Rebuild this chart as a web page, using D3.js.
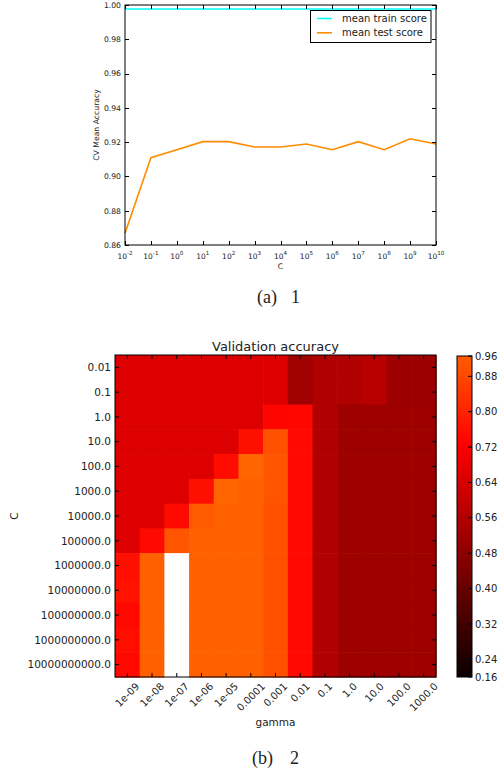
<!DOCTYPE html>
<html><head><meta charset="utf-8">
<script src="https://cdn.jsdelivr.net/npm/d3@7"></script>
<style>body{margin:0;background:#fff}svg{display:block}text{font-family:"DejaVu Sans",sans-serif;fill:#222}</style>
</head><body>
<script>
// ---------- data: top chart ----------
const cExponents = [-2,-1,0,1,2,3,4,5,6,7,8,9,10];
const trainScore = [0.9977,0.9977,0.9977,0.9977,0.9977,0.9977,0.9977,0.9977,0.9977,0.9977,0.9977,0.9977,0.9977];
const testScore  = [0.8668,0.9109,0.9156,0.9203,0.9203,0.9172,0.9172,0.9189,0.9156,0.9203,0.9156,0.9220,0.9189];
const yTicksTop  = [0.86,0.88,0.90,0.92,0.94,0.96,0.98,1.00];
const legendLabels = ["mean train score","mean test score"];

// ---------- data: heatmap ----------
const gammaLabels = ["1e-09","1e-08","1e-07","1e-06","1e-05","0.0001","0.001","0.01","0.1","1.0","10.0","100.0","1000.0"];
const cLabels = ["0.01","0.1","1.0","10.0","100.0","1000.0","10000.0","100000.0","1000000.0","10000000.0","100000000.0","1000000000.0","10000000000.0"];
const scores = [
  [0.650,0.650,0.650,0.650,0.650,0.650,0.650,0.522,0.556,0.556,0.575,0.513,0.513],
  [0.650,0.650,0.650,0.650,0.650,0.650,0.650,0.522,0.556,0.556,0.575,0.513,0.513],
  [0.650,0.650,0.650,0.650,0.650,0.650,0.736,0.740,0.556,0.518,0.518,0.518,0.518],
  [0.650,0.650,0.650,0.650,0.650,0.758,0.900,0.745,0.556,0.518,0.518,0.518,0.518],
  [0.650,0.650,0.650,0.650,0.750,0.9202,0.909,0.745,0.556,0.518,0.518,0.518,0.518],
  [0.650,0.650,0.650,0.758,0.9202,0.9201,0.909,0.745,0.556,0.518,0.518,0.518,0.518],
  [0.650,0.650,0.747,0.919,0.9201,0.9201,0.898,0.745,0.556,0.518,0.518,0.518,0.518],
  [0.650,0.747,0.909,0.9201,0.9201,0.9201,0.898,0.745,0.556,0.518,0.518,0.518,0.518],
  [0.758,0.9201,0.926,0.9201,0.9201,0.9201,0.898,0.745,0.556,0.518,0.518,0.518,0.518],
  [0.765,0.9201,0.926,0.9201,0.9201,0.9201,0.898,0.745,0.556,0.518,0.518,0.518,0.518],
  [0.742,0.9201,0.926,0.9201,0.9201,0.9201,0.898,0.745,0.556,0.518,0.518,0.518,0.518],
  [0.755,0.9201,0.926,0.9201,0.9201,0.9201,0.898,0.745,0.556,0.518,0.518,0.518,0.518],
  [0.742,0.9201,0.926,0.9201,0.9201,0.9201,0.898,0.745,0.556,0.518,0.518,0.518,0.518]
];
const colorbarTicks = [0.16,0.24,0.32,0.40,0.48,0.56,0.64,0.72,0.80,0.88,0.96];
const normVmin = 0.2, normMid = 0.92;

const W = 501, H = 773;
const svg = d3.select("body").append("svg").attr("width", W).attr("height", H);

// ================= TOP CHART =================
const tp = {l:125, r:436, t:5, b:245};
const x = d3.scaleLog().domain([1e-2, 1e10]).range([tp.l, tp.r]);
const y = d3.scaleLinear().domain([0.86, 1.00]).range([tp.b, tp.t]);
const g1 = svg.append("g");
const tickLen = 4;

// lines
const line = d3.line().x((d,i)=>x(Math.pow(10,cExponents[i]))).y(d=>y(d));
g1.append("path").datum(trainScore).attr("d", line).attr("fill","none").attr("stroke","#00ffff").attr("stroke-width",1.6);
g1.append("path").datum(testScore).attr("d", line).attr("fill","none").attr("stroke","#ff8c00").attr("stroke-width",1.6);

// frame
g1.append("rect").attr("x",tp.l).attr("y",tp.t).attr("width",tp.r-tp.l).attr("height",tp.b-tp.t)
  .attr("fill","none").attr("stroke","#000").attr("stroke-width",1);

// y ticks
yTicksTop.forEach(v=>{
  const yy = Math.round(y(v))+0.5;
  g1.append("line").attr("x1",tp.l).attr("x2",tp.l+tickLen).attr("y1",yy).attr("y2",yy).attr("stroke","#000");
  g1.append("line").attr("x1",tp.r-tickLen).attr("x2",tp.r).attr("y1",yy).attr("y2",yy).attr("stroke","#000");
  g1.append("text").attr("x",tp.l-4).attr("y",y(v)+2.8).attr("text-anchor","end").attr("font-size",7.7).text(v.toFixed(2));
});
// x ticks
cExponents.forEach(e=>{
  const xx = Math.round(x(Math.pow(10,e)))+0.5;
  g1.append("line").attr("x1",xx).attr("x2",xx).attr("y1",tp.b).attr("y2",tp.b-tickLen).attr("stroke","#000");
  g1.append("line").attr("x1",xx).attr("x2",xx).attr("y1",tp.t).attr("y2",tp.t+tickLen).attr("stroke","#000");
  const t = g1.append("text").attr("x",x(Math.pow(10,e))).attr("y",258.5).attr("text-anchor","middle").attr("font-size",7.5);
  t.append("tspan").text("10");
  t.append("tspan").attr("dy",-3.5).attr("font-size",5.6).text(e<0 ? "-"+(-e) : String(e));
});
g1.append("text").attr("x",(tp.l+tp.r)/2).attr("y",269).attr("text-anchor","middle").attr("font-size",7.7).text("C");
g1.append("text").attr("transform",`translate(99,${(tp.t+tp.b)/2}) rotate(-90)`).attr("text-anchor","middle").attr("font-size",7.7).text("CV Mean Accuracy");

// legend
const lg = g1.append("g");
lg.append("rect").attr("x",310.5).attr("y",10.5).attr("width",120.5).attr("height",32).attr("fill","#fff").attr("stroke","#000");
const legendColors = ["#00ffff","#ff8c00"];
legendLabels.forEach((lab,i)=>{
  const ly = 18.5 + i*14.3;
  lg.append("line").attr("x1",317).attr("x2",332).attr("y1",ly).attr("y2",ly).attr("stroke",legendColors[i]).attr("stroke-width",1.6);
  lg.append("text").attr("x",342).attr("y",ly+3.6).attr("font-size",10).text(lab);
});

// caption a
svg.append("text").attr("x",257).attr("y",302.5).attr("font-family","Liberation Serif, serif").style("font-family","'Liberation Serif',serif").attr("font-size",18).text("(a)");
svg.append("text").attr("x",291).attr("y",302.5).style("font-family","'Liberation Serif',serif").attr("font-size",18).text("1");

// ================= HEATMAP =================
const hp = {l:115, r:436, t:355, b:677};
const xb = d3.scaleBand().domain(gammaLabels).range([hp.l, hp.r]);
const yb = d3.scaleBand().domain(cLabels).range([hp.t, hp.b]);
const vmax = d3.max(scores.flat());
const norm = d3.scaleLinear().domain([normVmin, normMid, vmax]).range([0, 0.5, 1]).clamp(true);
function hot(t){
  const a = 0.365079, b = 0.746032;
  const r = t < a ? 0.0416 + t/a*(1-0.0416) : 1;
  const g = t < a ? 0 : (t < b ? (t-a)/(b-a) : 1);
  const bl = t < b ? 0 : (t-b)/(1-b);
  return d3.rgb(Math.round(r*255), Math.round(g*255), Math.round(bl*255)).toString();
}
const g2 = svg.append("g");
scores.forEach((row,i)=>{
  row.forEach((v,j)=>{
    g2.append("rect").attr("x",xb(gammaLabels[j])).attr("y",yb(cLabels[i]))
      .attr("width",xb.bandwidth()+0.6).attr("height",yb.bandwidth()+0.6)
      .attr("fill",hot(norm(v)));
  });
});
g2.append("rect").attr("x",hp.l).attr("y",hp.t).attr("width",hp.r-hp.l).attr("height",hp.b-hp.t)
  .attr("fill","none").attr("stroke","#000").attr("stroke-width",1);
// ticks
gammaLabels.forEach(lab=>{
  const cx = xb(lab)+xb.bandwidth()/2;
  g2.append("line").attr("x1",cx).attr("x2",cx).attr("y1",hp.b).attr("y2",hp.b-tickLen).attr("stroke","#000");
  g2.append("line").attr("x1",cx).attr("x2",cx).attr("y1",hp.t).attr("y2",hp.t+tickLen).attr("stroke","#000");
  const t = g2.append("text").attr("font-size",10).attr("text-anchor","middle").text(lab);
  const w = t.node().getComputedTextLength();
  const h = (w + 10) * Math.SQRT1_2;
  t.attr("transform",`translate(${cx},${hp.b + 4 + h/2}) rotate(-45)`).attr("dy","0.35em");
});
cLabels.forEach(lab=>{
  const cy = yb(lab)+yb.bandwidth()/2;
  g2.append("line").attr("x1",hp.l).attr("x2",hp.l+tickLen).attr("y1",cy).attr("y2",cy).attr("stroke","#000");
  g2.append("line").attr("x1",hp.r-tickLen).attr("x2",hp.r).attr("y1",cy).attr("y2",cy).attr("stroke","#000");
  g2.append("text").attr("x",hp.l-4).attr("y",cy+3.8).attr("text-anchor","end").attr("font-size",10.5).text(lab);
});
g2.append("text").attr("x",(hp.l+hp.r)/2).attr("y",351).attr("text-anchor","middle").attr("font-size",13).text("Validation accuracy");
g2.append("text").attr("x",(hp.l+hp.r)/2).attr("y",726).attr("text-anchor","middle").attr("font-size",10.5).text("gamma");
g2.append("text").attr("transform",`translate(18,${(hp.t+hp.b)/2}) rotate(-90)`).attr("text-anchor","middle").attr("font-size",10.5).text("C");

// colorbar
const cb = {l:457, r:472, t:356, b:677};
const cbScale = d3.scaleLinear().domain([normVmin, vmax]).range([cb.b, cb.t]).clamp(true);
const defs = svg.append("defs");
const grad = defs.append("linearGradient").attr("id","cbgrad").attr("x1",0).attr("y1",1).attr("x2",0).attr("y2",0);
d3.range(0, 61).forEach(k=>{
  const v = normVmin + (normMid - normVmin)*k/60;
  const off = (cb.b - cbScale(v)) / (cb.b - cb.t);
  grad.append("stop").attr("offset", off).attr("stop-color", hot(norm(v)));
});
g2.append("rect").attr("x",cb.l).attr("y",cb.t).attr("width",cb.r-cb.l).attr("height",cb.b-cb.t)
  .attr("fill","url(#cbgrad)").attr("stroke","#000").attr("stroke-width",1);
colorbarTicks.forEach(v=>{
  const yy = cbScale(v);
  g2.append("line").attr("x1",cb.r-4).attr("x2",cb.r).attr("y1",yy).attr("y2",yy).attr("stroke","#000");
  g2.append("text").attr("x",cb.r+3).attr("y",yy+3.6).attr("font-size",10).text(v.toFixed(2));
});

// caption b
svg.append("text").attr("x",252).attr("y",764).style("font-family","'Liberation Serif',serif").attr("font-size",18).text("(b)");
svg.append("text").attr("x",290).attr("y",764).style("font-family","'Liberation Serif',serif").attr("font-size",18).text("2");
</script>
</body></html>
